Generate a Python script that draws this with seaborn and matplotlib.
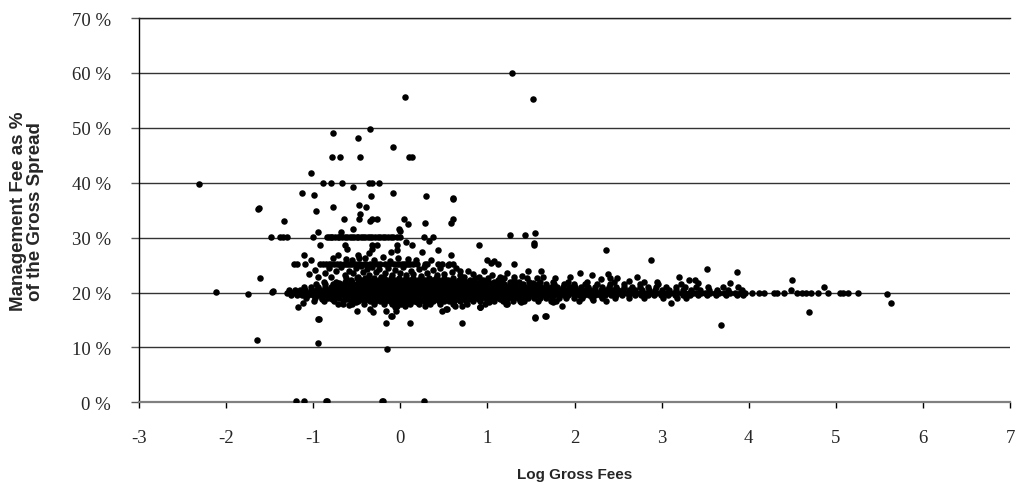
import matplotlib
matplotlib.use("Agg")
import matplotlib.pyplot as plt
import seaborn as sns
import pandas as pd
from matplotlib.ticker import FuncFormatter

# ---------------- data ----------------
# isolated points: log gross fees, management fee %
scatter_x = [1.28, 1.52, 0.05, -0.35, -0.77, -0.49, -0.08, -0.78, -0.69, -0.46, 0.10, 0.13,
             -1.02, -2.31, -0.89, -0.80, -0.67, -0.36, -0.33, -0.25, -0.54, -1.13, -0.08, -0.99,
             -0.34, 0.30, 0.60, 0.61, -1.63, -1.62, -0.77, -0.47, -0.39, -0.97, -0.46, -1.34,
             -0.65, -0.47, -0.35, -0.33, -0.27, 0.04, 0.09, 0.28, 0.61, 0.58, -0.54, -0.02,
             0.00, -0.94, -0.68, -1.10, -1.02, -0.92, -0.77, -0.63, -0.61, -0.49, -0.47, -0.36,
             -0.33, -0.32, -0.27, -0.11, -0.04, -0.04, 0.06, 0.14, 0.25, 0.33, 0.43, 0.58,
             0.69, 1.00, 1.04, 0.90, 1.26, 1.43, 1.55, 1.53, 1.54, 2.36, 2.88, 3.52,
             3.86, 4.50, 4.69, 3.68, 5.63, 5.59, 4.87, 3.78, 3.11, 2.72, 3.20, 3.31,
             3.38, 3.42, 2.39, 2.41, 2.49, 2.06, 2.20, 1.97, 1.86, 1.66, 1.55, 1.73,
             1.62, 1.47, 1.31, 1.12, 1.08, 1.64, 1.37, 1.22, 1.02, 0.92, 2.21, 2.36,
             3.18, 3.94, -2.12, -1.75, -1.61, -1.47, -1.46, -1.64, -0.94, -0.93, -0.94, -0.15,
             -0.16, 0.11, 0.71, -1.20, -1.10, -0.85, -0.84, -0.20, -0.21, 0.27, -1.18, -1.12,
             -0.99, -0.90, -0.78, -0.66, -0.59, -0.50, -0.51, -0.35, -0.31, -0.16, -0.05, -0.06,
             -0.10, 0.05, 0.19, 0.28, 0.48, 0.53, 0.63, 0.71, 0.92, 1.55, 1.67, -0.11,
             -0.04, 0.54, 0.91, 1.39, 1.75, 1.23]
scatter_y = [59.9, 55.2, 55.6, 49.8, 49.1, 48.1, 46.5, 44.6, 44.6, 44.6, 44.6, 44.6,
             41.7, 39.8, 40.0, 40.0, 40.0, 40.0, 40.0, 40.0, 39.3, 38.2, 38.2, 37.7,
             37.5, 37.5, 37.1, 37.3, 35.2, 35.4, 35.6, 35.9, 35.6, 34.8, 34.3, 33.0,
             33.3, 33.3, 33.0, 33.3, 33.3, 33.3, 32.4, 32.7, 33.3, 32.7, 31.6, 31.5,
             31.2, 31.1, 31.1, 26.8, 26.0, 28.7, 26.3, 28.7, 28.0, 26.8, 26.2, 27.2,
             28.0, 28.7, 28.7, 27.4, 28.7, 27.8, 29.2, 28.7, 27.4, 29.3, 27.7, 26.8,
             24.0, 25.9, 25.3, 28.7, 30.5, 30.5, 30.8, 28.7, 29.0, 27.7, 25.9, 24.3,
             23.7, 22.3, 16.5, 14.1, 18.0, 19.7, 21.0, 21.7, 18.0, 22.9, 22.9, 22.2,
             22.3, 21.8, 23.3, 22.7, 22.6, 23.6, 23.2, 21.0, 17.5, 15.7, 15.4, 18.5,
             23.9, 23.9, 25.2, 25.2, 25.7, 22.9, 18.5, 18.0, 18.3, 17.3, 18.6, 18.5,
             19.0, 19.5, 20.1, 19.8, 22.6, 20.1, 20.2, 11.3, 15.1, 15.2, 10.8, 9.7,
             14.5, 14.5, 14.5, 0.2, 0.2, 0.2, 0.2, 0.2, 0.2, 0.2, 17.4, 18.1,
             18.5, 18.8, 18.8, 17.9, 17.8, 16.7, 18.2, 17.0, 16.5, 16.7, 16.7, 17.3,
             15.8, 17.6, 18.2, 17.6, 16.7, 17.0, 17.5, 17.5, 17.3, 15.5, 15.8, 15.8,
             17.6, 17.0, 17.4, 18.3, 18.3, 17.9]

# cloud of deals between about 22 % and 27 %
cloud_x = [-1.05, -0.98, -0.95, -0.86, -0.82, -0.79, -0.74, -0.71, -0.68, -0.64, -0.62, -0.59,
           -0.56, -0.54, -0.51, -0.48, -0.45, -0.43, -0.41, -0.38, -0.36, -0.33, -0.30, -0.28,
           -0.25, -0.22, -0.20, -0.17, -0.14, -0.12, -0.09, -0.06, -0.03, 0.00, 0.03, 0.06,
           0.09, 0.12, 0.15, 0.18, 0.21, 0.24, 0.27, 0.31, 0.35, 0.38, 0.42, 0.46,
           0.50, 0.55, 0.59, 0.64, 0.68, 0.73, 0.78, 0.84, 0.90, 0.96, 1.05, 1.14,
           1.22, 1.30, 1.40, 1.57, 1.78, 1.95, 2.30, 2.62, 2.95]
cloud_y = [23.4, 24.1, 22.9, 23.6, 24.4, 22.8, 23.9, 26.9, 24.6, 23.2, 26.1, 24.0,
           25.9, 23.5, 24.4, 22.9, 24.8, 23.7, 26.3, 24.2, 23.1, 24.6, 26.0, 23.8,
           24.3, 22.9, 26.5, 23.6, 24.4, 25.8, 23.2, 24.1, 26.3, 23.6, 24.7, 23.1,
           26.1, 24.0, 23.4, 25.9, 24.2, 23.0, 24.6, 23.5, 26.0, 24.1, 23.2, 24.5,
           23.4, 25.1, 23.8, 24.4, 23.1, 22.9, 24.0, 23.3, 22.8, 23.9, 23.1, 22.9,
           23.6, 22.8, 23.0, 22.7, 22.7, 22.8, 22.5, 22.1, 21.9]

# deals priced at exactly 30 % and 25 %
row_30 = [-1.49, -1.38, -1.35, -1.30, -1.00, -0.84, -0.82, -0.80, -0.78, -0.75, -0.72, -0.70,
          -0.67, -0.64, -0.61, -0.58, -0.56, -0.53, -0.50, -0.48, -0.45, -0.43, -0.40, -0.37,
          -0.35, -0.32, -0.29, -0.26, -0.23, -0.20, -0.17, -0.14, -0.11, -0.08, -0.04, 0.00,
          0.27, 0.38]
row_25 = [-1.22, -1.19, -1.09, -0.92, -0.89, -0.85, -0.82, -0.79, -0.76, -0.73, -0.69, -0.65,
          -0.62, -0.60, -0.58, -0.55, -0.52, -0.49, -0.46, -0.42, -0.39, -0.35, -0.31, -0.27,
          -0.23, -0.18, -0.13, -0.07, -0.04, -0.01, 0.02, 0.04, 0.06, 0.09, 0.11, 0.15,
          0.19, 0.28, 0.31, 0.43, 0.48, 0.56, 0.60]

# the dense band around 20 %, row by row (x positions at each level)
band_226 = [-0.62, -0.50, -0.41, -0.30, -0.19, -0.11, -0.02, 0.07, 0.15, 0.24, 0.33, 0.41,
            0.50, 0.61, 0.72, 0.86, 1.01, 1.19, 1.45]
band_223 = [-0.57, -0.45, -0.36, -0.25, -0.16, -0.06, 0.04, 0.11, 0.20, 0.28, 0.38, 0.45,
            0.55, 0.67, 0.80, 0.95, 1.12, 1.31]
band_220 = [-0.88, -0.74, -0.63, -0.55, -0.47, -0.40, -0.34, -0.28, -0.21, -0.15, -0.09, -0.04,
            0.02, 0.07, 0.13, 0.18, 0.24, 0.30, 0.35, 0.41, 0.47, 0.52, 0.58, 0.64,
            0.71, 0.77, 0.84, 0.92, 1.00, 1.08, 1.17, 1.26, 1.36, 1.48, 1.60, 1.75,
            1.92, 2.14, 2.45, 2.80]
band_218 = [-0.70, -0.58, -0.49, -0.42, -0.36, -0.31, -0.24, -0.18, -0.12, -0.07, -0.01, 0.04,
            0.10, 0.16, 0.22, 0.27, 0.33, 0.38, 0.44, 0.50, 0.56, 0.62, 0.68, 0.74,
            0.80, 0.88, 0.95, 1.03, 1.14, 1.29, 1.52]
band_215 = [-0.97, -0.86, -0.77, -0.69, -0.62, -0.56, -0.50, -0.45, -0.40, -0.35, -0.30, -0.25,
            -0.20, -0.15, -0.10, -0.05, 0.00, 0.05, 0.10, 0.15, 0.20, 0.25, 0.30, 0.35,
            0.40, 0.45, 0.50, 0.55, 0.60, 0.65, 0.70, 0.76, 0.81, 0.87, 0.93, 0.99,
            1.05, 1.12, 1.19, 1.26, 1.33, 1.41, 1.49, 1.58, 1.67, 1.77, 1.88, 1.99,
            2.12, 2.26, 2.41, 2.57, 2.75, 2.96, 3.22]
band_210 = [-1.10, -1.02, -0.94, -0.87, -0.80, -0.74, -0.68, -0.63, -0.58, -0.53, -0.48, -0.43,
            -0.39, -0.34, -0.29, -0.25, -0.20, -0.15, -0.11, -0.06, -0.02, 0.03, 0.07, 0.12,
            0.16, 0.21, 0.26, 0.30, 0.35, 0.40, 0.44, 0.49, 0.54, 0.58, 0.63, 0.68,
            0.72, 0.77, 0.82, 0.86, 0.91, 0.96, 1.01, 1.06, 1.11, 1.16, 1.21, 1.27,
            1.32, 1.37, 1.43, 1.49, 1.55, 1.61, 1.67, 1.73, 1.80, 1.87, 1.94, 2.01,
            2.08, 2.16, 2.24, 2.32, 2.40, 2.48, 2.57, 2.66, 2.75, 2.84, 2.94, 3.05,
            3.16, 3.27, 3.40, 3.53, 3.70, 3.88]
band_205 = [-1.28, -1.21, -1.15, -1.09, -1.03, -0.97, -0.92, -0.87, -0.82, -0.77, -0.72, -0.67,
            -0.62, -0.58, -0.53, -0.49, -0.44, -0.40, -0.35, -0.31, -0.26, -0.22, -0.17, -0.13,
            -0.08, -0.04, 0.01, 0.05, 0.10, 0.14, 0.19, 0.23, 0.28, 0.32, 0.37, 0.41,
            0.46, 0.50, 0.55, 0.59, 0.64, 0.68, 0.73, 0.77, 0.82, 0.86, 0.91, 0.95,
            1.00, 1.05, 1.09, 1.14, 1.19, 1.23, 1.28, 1.33, 1.38, 1.43, 1.48, 1.53,
            1.58, 1.63, 1.68, 1.73, 1.78, 1.84, 1.89, 1.95, 2.00, 2.06, 2.12, 2.18,
            2.24, 2.30, 2.36, 2.43, 2.50, 2.56, 2.63, 2.70, 2.77, 2.85, 2.92, 3.00,
            3.08, 3.17, 3.25, 3.34, 3.44, 3.54, 3.64, 3.76, 3.92, 4.48]
band_200 = [-1.30, -1.27, -1.24, -1.20, -1.16, -1.12, -1.08, -1.05, -1.01, -0.97, -0.93, -0.90,
            -0.86, -0.82, -0.78, -0.74, -0.71, -0.67, -0.63, -0.59, -0.55, -0.52, -0.48, -0.44,
            -0.40, -0.36, -0.33, -0.29, -0.25, -0.21, -0.17, -0.14, -0.10, -0.06, -0.02, 0.02,
            0.05, 0.09, 0.13, 0.17, 0.21, 0.24, 0.28, 0.32, 0.36, 0.40, 0.43, 0.47,
            0.51, 0.55, 0.59, 0.62, 0.66, 0.70, 0.74, 0.78, 0.81, 0.85, 0.89, 0.93,
            0.97, 1.00, 1.04, 1.08, 1.12, 1.16, 1.19, 1.23, 1.27, 1.31, 1.35, 1.38,
            1.42, 1.46, 1.50, 1.54, 1.57, 1.61, 1.65, 1.69, 1.73, 1.76, 1.80, 1.84,
            1.88, 1.92, 1.95, 1.99, 2.03, 2.07, 2.11, 2.14, 2.18, 2.22, 2.26, 2.30,
            2.33, 2.37, 2.41, 2.45, 2.49, 2.52, 2.56, 2.60, 2.64, 2.68, 2.71, 2.75,
            2.79, 2.83, 2.87, 2.90, 2.94, 2.98, 3.02, 3.06, 3.10, 3.14, 3.18, 3.23,
            3.27, 3.31, 3.36, 3.40, 3.45, 3.50, 3.55, 3.61, 3.66, 3.72, 3.78, 3.84,
            3.90, 3.96, 4.04, 4.12, 4.17, 4.29, 4.33, 4.40, 4.56, 4.61, 4.66, 4.72,
            4.80, 4.91, 5.05, 5.08, 5.14, 5.25]
band_195 = [-1.26, -1.19, -1.13, -1.06, -1.00, -0.95, -0.89, -0.84, -0.79, -0.74, -0.69, -0.64,
            -0.60, -0.55, -0.50, -0.46, -0.41, -0.37, -0.32, -0.28, -0.23, -0.19, -0.14, -0.10,
            -0.05, -0.01, 0.04, 0.08, 0.13, 0.17, 0.22, 0.26, 0.31, 0.35, 0.40, 0.44,
            0.49, 0.53, 0.58, 0.62, 0.67, 0.71, 0.76, 0.80, 0.85, 0.89, 0.94, 0.98,
            1.03, 1.07, 1.12, 1.17, 1.21, 1.26, 1.31, 1.36, 1.41, 1.46, 1.51, 1.56,
            1.61, 1.66, 1.71, 1.77, 1.82, 1.88, 1.93, 1.99, 2.05, 2.11, 2.17, 2.23,
            2.29, 2.35, 2.42, 2.48, 2.55, 2.62, 2.69, 2.76, 2.84, 2.91, 2.99, 3.07,
            3.15, 3.24, 3.33, 3.42, 3.52, 3.63, 3.74, 3.86]
band_190 = [-1.08, -0.98, -0.90, -0.83, -0.76, -0.70, -0.64, -0.59, -0.54, -0.49, -0.44, -0.39,
            -0.35, -0.30, -0.25, -0.21, -0.16, -0.12, -0.07, -0.03, 0.02, 0.06, 0.11, 0.15,
            0.20, 0.24, 0.29, 0.33, 0.38, 0.42, 0.47, 0.51, 0.56, 0.60, 0.65, 0.69,
            0.74, 0.79, 0.83, 0.88, 0.93, 0.98, 1.03, 1.08, 1.13, 1.18, 1.24, 1.29,
            1.35, 1.41, 1.47, 1.53, 1.60, 1.67, 1.74, 1.82, 1.90, 1.99, 2.09, 2.20,
            2.32, 2.46, 2.62, 2.80, 3.02, 3.28]
band_188 = [-0.61, -0.52, -0.45, -0.38, -0.32, -0.26, -0.20, -0.14, -0.09, -0.03, 0.03, 0.08,
            0.13, 0.19, 0.25, 0.30, 0.36, 0.41, 0.47, 0.53, 0.59, 0.66, 0.73, 0.81,
            0.90, 1.01, 1.14]
band_185 = [-0.88, -0.76, -0.66, -0.57, -0.49, -0.42, -0.35, -0.29, -0.23, -0.17, -0.12, -0.06,
            -0.01, 0.05, 0.10, 0.16, 0.21, 0.27, 0.32, 0.38, 0.44, 0.50, 0.56, 0.62,
            0.69, 0.76, 0.83, 0.91, 0.99, 1.08, 1.18, 1.29, 1.42, 1.58, 1.79, 2.05]
band_179 = [-0.72, -0.55, -0.42, -0.30, -0.19, -0.09, 0.01, 0.11, 0.22, 0.34, 0.46, 0.60,
            0.77, 0.97, 1.21]

band_levels = [22.6, 22.3, 22.0, 21.8, 21.5, 21.0, 20.5, 20.0, 19.5, 19.0, 18.8, 18.5, 17.9]
band_rows = [band_226, band_223, band_220, band_218, band_215, band_210, band_205, band_200,
             band_195, band_190, band_188, band_185, band_179]

y_ticks = [0, 10, 20, 30, 40, 50, 60, 70]
x_ticks = [-3, -2, -1, 0, 1, 2, 3, 4, 5, 6, 7]

# ---------------- assemble ----------------
xs = list(scatter_x) + list(cloud_x) + list(row_30) + list(row_25)
ys = list(scatter_y) + list(cloud_y) + [30.2] * len(row_30) + [25.2] * len(row_25)
for lvl, row in zip(band_levels, band_rows):
    xs += row
    ys += [lvl] * len(row)
df = pd.DataFrame({"log_fees": xs, "mgmt_pct": ys})

# ---------------- plot ----------------
sns.set_style("white")
plt.rcParams["font.family"] = ["Liberation Serif", "DejaVu Serif"]

fig = plt.figure(figsize=(10.19, 4.89), dpi=100)
W, H = 1019, 489
left, right, top, bottom = 139, 1010, 19, 403.3
ax = fig.add_axes([left / W, 1 - bottom / H, (right - left) / W, (bottom - top) / H])

ax.set_xlim(-3, 7)
ax.set_ylim(0, 70)
ax.set_yticks(y_ticks)
ax.set_xticks(x_ticks)
ax.yaxis.grid(True, color="#333333", linewidth=1.0)
ax.xaxis.grid(False)
ax.set_axisbelow(True)

sns.scatterplot(data=df, x="log_fees", y="mgmt_pct", color="black", s=22,
                linewidth=0, ax=ax, zorder=3, legend=False)

ax.yaxis.set_major_formatter(FuncFormatter(lambda v, p: f"{int(v)} %"))
ax.xaxis.set_major_formatter(FuncFormatter(lambda v, p: f"{int(v)}"))

ax.spines["right"].set_visible(False)
ax.spines["top"].set_color("#222222")
ax.spines["top"].set_linewidth(1.0)
ax.spines["left"].set_color("black")
ax.spines["left"].set_linewidth(1.0)
ax.spines["bottom"].set_color("#808080")
ax.spines["bottom"].set_linewidth(1.6)

ax.tick_params(axis="y", which="major", left=True, length=6, width=1, color="#555555",
               direction="out", pad=14, labelsize=13.5)
ax.tick_params(axis="x", which="major", bottom=True, length=4, width=1, color="black",
               direction="out", pad=15, labelsize=13.5)

ax.set_xlabel("Log Gross Fees", fontsize=11, fontweight="bold",
              family=["Liberation Sans", "DejaVu Sans"])
ax.set_ylabel("Management Fee as %\nof the Gross Spread", fontsize=13.5, fontweight="bold",
              family=["Liberation Sans", "DejaVu Sans"], linespacing=1.05)
ax.xaxis.set_label_coords(0.5, -(475 - bottom) / (bottom - top))
ax.xaxis.label.set_verticalalignment("center")
ax.yaxis.set_label_coords((27 - left) / (right - left), 0.5)
ax.yaxis.label.set_verticalalignment("center")

fig.savefig("out.png", dpi=100)
